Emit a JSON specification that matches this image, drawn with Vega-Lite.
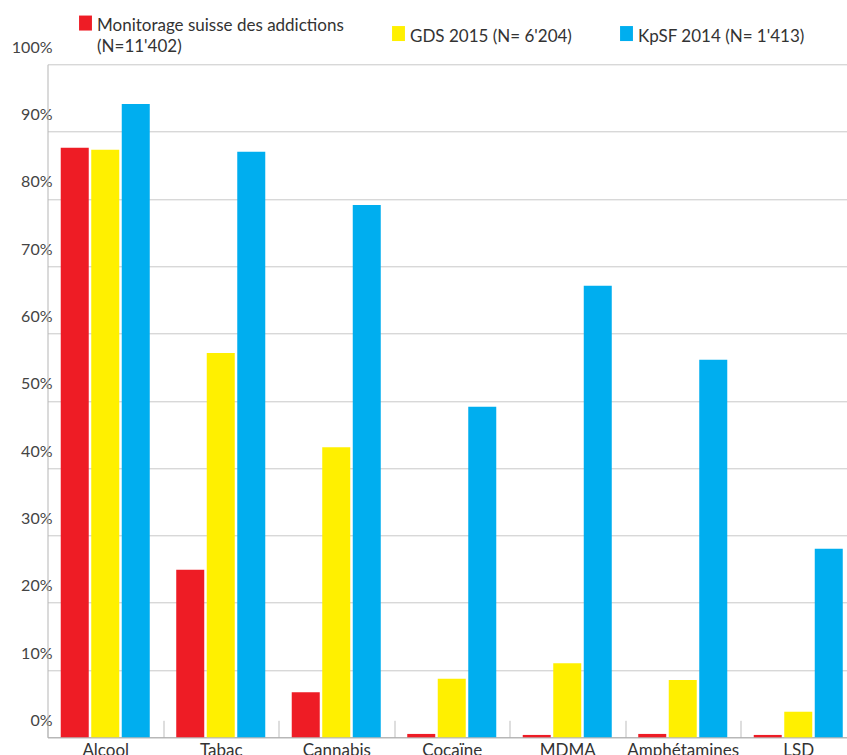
{
  "$schema": "https://vega.github.io/schema/vega-lite/v6.json",
  "width": 808.5,
  "height": 673,
  "autosize": {"type": "none"},
  "padding": {"left": 47.5, "top": 64.3, "right": 0, "bottom": 17.7},
  "background": "white",
  "config": {"view": {"stroke": null}, "font": "Lato"},
  "data": {
    "values": [
      {"drug": "Alcool", "source": "Monitorage suisse des addictions (N=11'402)", "pct": 87.6},
      {"drug": "Alcool", "source": "GDS 2015 (N= 6'204)", "pct": 87.3},
      {"drug": "Alcool", "source": "KpSF 2014 (N= 1'413)", "pct": 94.1},
      {"drug": "Tabac", "source": "Monitorage suisse des addictions (N=11'402)", "pct": 24.9},
      {"drug": "Tabac", "source": "GDS 2015 (N= 6'204)", "pct": 57.1},
      {"drug": "Tabac", "source": "KpSF 2014 (N= 1'413)", "pct": 87.0},
      {"drug": "Cannabis", "source": "Monitorage suisse des addictions (N=11'402)", "pct": 6.7},
      {"drug": "Cannabis", "source": "GDS 2015 (N= 6'204)", "pct": 43.1},
      {"drug": "Cannabis", "source": "KpSF 2014 (N= 1'413)", "pct": 79.1},
      {"drug": "Cocaïne", "source": "Monitorage suisse des addictions (N=11'402)", "pct": 0.5},
      {"drug": "Cocaïne", "source": "GDS 2015 (N= 6'204)", "pct": 8.7},
      {"drug": "Cocaïne", "source": "KpSF 2014 (N= 1'413)", "pct": 49.1},
      {"drug": "MDMA", "source": "Monitorage suisse des addictions (N=11'402)", "pct": 0.35},
      {"drug": "MDMA", "source": "GDS 2015 (N= 6'204)", "pct": 11.0},
      {"drug": "MDMA", "source": "KpSF 2014 (N= 1'413)", "pct": 67.1},
      {"drug": "Amphétamines", "source": "Monitorage suisse des addictions (N=11'402)", "pct": 0.5},
      {"drug": "Amphétamines", "source": "GDS 2015 (N= 6'204)", "pct": 8.5},
      {"drug": "Amphétamines", "source": "KpSF 2014 (N= 1'413)", "pct": 56.1},
      {"drug": "LSD", "source": "Monitorage suisse des addictions (N=11'402)", "pct": 0.35},
      {"drug": "LSD", "source": "GDS 2015 (N= 6'204)", "pct": 3.8},
      {"drug": "LSD", "source": "KpSF 2014 (N= 1'413)", "pct": 28.0}
    ]
  },
  "mark": {"type": "bar"},
  "encoding": {
    "x": {
      "field": "drug",
      "type": "nominal",
      "sort": null,
      "scale": {"paddingInner": 0, "paddingOuter": 0},
      "axis": {
        "title": null,
        "labelAngle": 0,
        "tickBand": "extent",
        "tickSize": -17,
        "tickColor": "#bdbdbd",
        "tickWidth": 1,
        "domainColor": "#aaaaaa",
        "domainWidth": 1,
        "labelPadding": 22,
        "labelFontSize": 17,
        "labelColor": "#333333",
        "labelBaseline": "top",
        "grid": false
      }
    },
    "xOffset": {
      "field": "source",
      "type": "nominal",
      "sort": null,
      "scale": {"paddingInner": 0.082, "paddingOuter": 0.434}
    },
    "y": {
      "field": "pct",
      "type": "quantitative",
      "scale": {"domain": [0, 100]},
      "axis": {
        "title": null,
        "values": [0, 10, 20, 30, 40, 50, 60, 70, 80, 90, 100],
        "labelExpr": "datum.value + '%'",
        "ticks": false,
        "domain": true,
        "domainColor": "#b5b5b5",
        "domainWidth": 1,
        "grid": true,
        "gridColor": "#c8c8c8",
        "gridWidth": 1,
        "labelAlign": "right",
        "labelBaseline": "alphabetic",
        "labelOffset": -12,
        "labelPadding": -4.5,
        "labelFontSize": 16,
        "labelColor": "#444444"
      }
    },
    "color": {
      "field": "source",
      "type": "nominal",
      "sort": null,
      "scale": {
        "domain": ["Monitorage suisse des addictions (N=11'402)", "GDS 2015 (N= 6'204)", "KpSF 2014 (N= 1'413)"],
        "range": ["#ee1c25", "#fff000", "#00aeef"]
      },
      "legend": {
        "title": null,
        "orient": "none",
        "legendX": 29.5,
        "legendY": -50,
        "direction": "horizontal",
        "symbolType": "M-0.86,-1H0.86V1H-0.86Z",
        "symbolSize": 225,
        "symbolStrokeWidth": 0,
        "symbolOpacity": 1,
        "labelFontSize": 17,
        "labelColor": "#333333",
        "labelOffset": 3,
        "labelBaseline": "top",
        "labelLimit": 400,
        "columnPadding": 46,
        "padding": 0,
        "labelExpr": "datum.label == \"Monitorage suisse des addictions (N=11'402)\" ? ['Monitorage suisse des addictions', \"(N=11'402)\"] : datum.label",
        "encoding": {
          "labels": {"lineHeight": {"value": 21}, "dy": {"value": -5}}
        }
      }
    }
  }
}
